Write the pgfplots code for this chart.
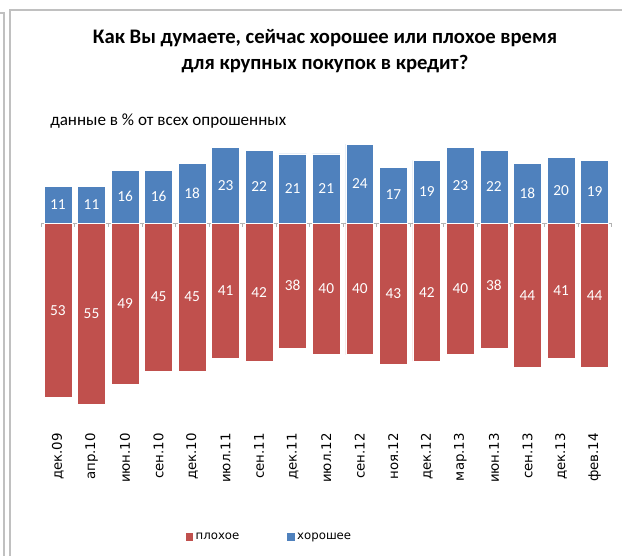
\documentclass[border=0pt]{standalone}
\usepackage{pgfplots}
\pgfplotsset{compat=1.18}
\usepackage{pgfplotstable}
\usepackage{fontspec}
\setmainfont{Carlito}
\newfontfamily\dejavu{DejaVu Sans}
\definecolor{goodblue}{HTML}{4F81BD}
\definecolor{badred}{HTML}{C0504D}
\definecolor{framegray}{HTML}{C0C0C0}

% хорошее / плохое, % of respondents
\pgfplotstableread{
x good bad
0 11 53
1 11 55
2 16 49
3 16 45
4 18 45
5 23 41
6 22 42
7 21 38
8 21 40
9 24 40
10 17 43
11 19 42
12 23 40
13 22 38
14 18 44
15 20 41
16 19 44
}\credit

\pgfplotsset{
  sqlegend/.style={legend image code/.code={\fill[##1,draw=none] (0pt,-2.7pt) rectangle (5.4pt,2.7pt);}},
  barlabel/.style={forget plot, draw=none, mark=none, nodes near coords,
    nodes near coords align=center, point meta=explicit,
    /pgf/number format/assume math mode=true,
    every node near coord/.append style={text=white, font=\fontsize{11.5}{13}\selectfont}},
}

\begin{document}
\begin{tikzpicture}
\begin{scope}[x=0.75pt,y=-0.75pt]
  \path[use as bounding box] (0,0) rectangle (622,556);
  \draw[framegray, line width=1.1pt] (0,13) -- (4,13) -- (4,556);
  \draw[framegray, line width=1.1pt] (10,556) -- (10,10) -- (622,10);
  \node[font=\bfseries\fontsize{15.5}{19}\selectfont, align=center] at (325,51)
    {Как Вы думаете, сейчас хорошее или плохое время\\для крупных покупок в кредит?};
  \node[anchor=west, font=\fontsize{12.8}{15}\selectfont, inner sep=0pt] at (50,121)
    {данные в \% от всех опрошенных};
\end{scope}
\begin{axis}[
    at={(30.9pt,-315.3pt)}, anchor=south west,
    scale only axis, width=427.6pt, height=222.1pt,
    xmin=-0.5, xmax=16.5, ymin=-60, ymax=30,
    axis line style={draw=none}, major tick length=0pt,
    ytick=\empty,
    xtick={0,...,16},
    xticklabels={дек.09, апр.10, июн.10, сен.10, дек.10, июл.11, сен.11, дек.11,
      июл.12, сен.12, ноя.12, дек.12, мар.13, июн.13, сен.13, дек.13, фев.14},
    xticklabel style={rotate=90, anchor=east, font=\dejavu\fontsize{10}{12}\selectfont},
    xticklabel shift=6pt,
    clip=false,
    legend columns=2,
    legend style={at={(0.401,-0.394)}, anchor=center, draw=none,
      font=\dejavu\fontsize{8.8}{10}\selectfont,
      /tikz/every even column/.append style={column sep=34pt}},
  ]
  \draw[gray!60] (axis cs:-0.5,0) -- (axis cs:16.5,0);
  \pgfplotsinvokeforeach{-0.5,0.5,...,16.5}{
    \draw[gray!60] (axis cs:#1,0) -- ([yshift=-3pt]axis cs:#1,0);
  }
  \addplot[ybar, sqlegend, bar width=0.83, bar shift=0pt, fill=badred, draw=white, line width=0.5pt]
    table[x=x, y expr=-\thisrow{bad}] {\credit};
  \addlegendentry{плохое}
  \addplot[ybar, sqlegend, bar width=0.83, bar shift=0pt, fill=goodblue, draw=white, line width=0.5pt]
    table[x=x, y=good] {\credit};
  \addlegendentry{хорошее}
  \addplot[barlabel] table[x=x, y expr=-\thisrow{bad}/2, meta=bad] {\credit};
  \addplot[barlabel] table[x=x, y expr=\thisrow{good}/2, meta=good] {\credit};
\end{axis}
\end{tikzpicture}
\end{document}
